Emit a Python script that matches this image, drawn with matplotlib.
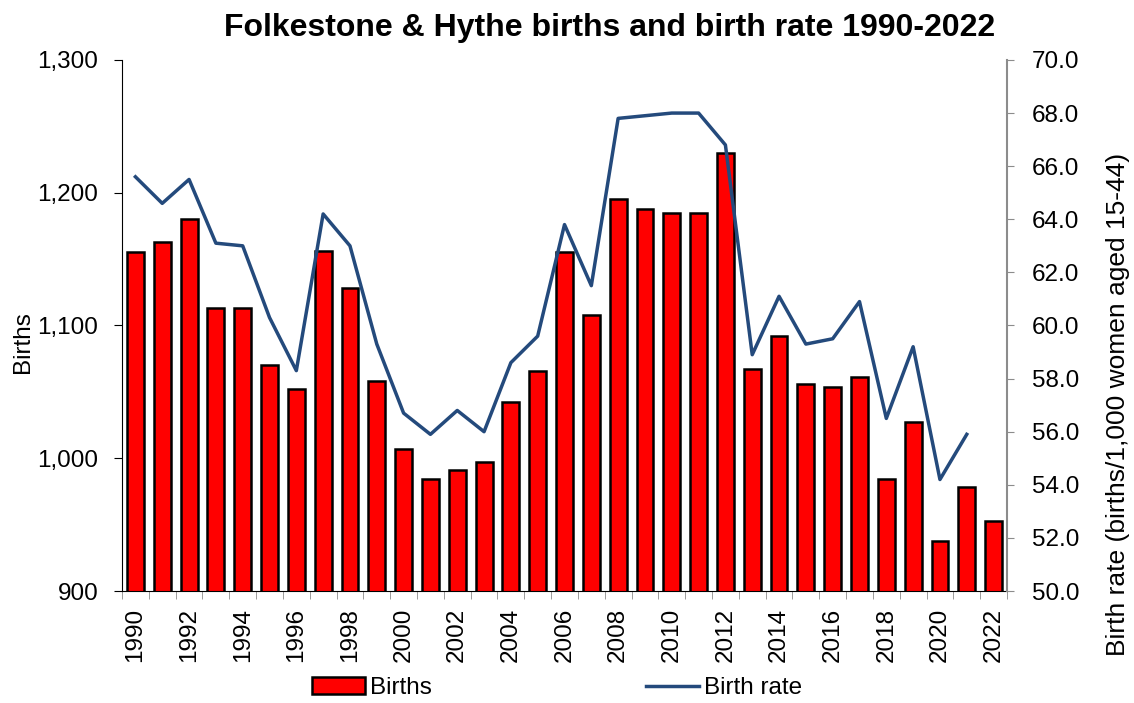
import matplotlib
matplotlib.use("Agg")
import matplotlib.pyplot as plt
from matplotlib.patches import Patch
from matplotlib.lines import Line2D
from matplotlib.ticker import FuncFormatter, MultipleLocator

plt.rcParams['font.family'] = ['Liberation Sans', 'DejaVu Sans']

years = list(range(1990, 2023))
births = [1155, 1163, 1180, 1113, 1113, 1070, 1052, 1156, 1128, 1058,
          1007, 984, 991, 997, 1042, 1066, 1155, 1108, 1195, 1188,
          1185, 1185, 1230, 1067, 1092, 1056, 1054, 1061, 984, 1027,
          938, 978, 953]
# no rate value shown for 2022
birth_rate = [65.6, 64.6, 65.5, 63.1, 63.0, 60.3, 58.3, 64.2, 63.0, 59.3,
              56.7, 55.9, 56.8, 56.0, 58.6, 59.6, 63.8, 61.5, 67.8, 67.9,
              68.0, 68.0, 66.8, 58.9, 61.1, 59.3, 59.5, 60.9, 56.5, 59.2,
              54.2, 55.9, None]

RED, BLUE, GREY = '#ff0000', '#244a7c', '#8c8c8c'
FS = 17.5

fig = plt.figure(figsize=(11.34, 7.03), dpi=100)
ax = fig.add_axes([0.1076, 0.1593, 0.7804, 0.7554])
ax2 = ax.twinx()

x = list(range(len(years)))
ax.bar(x, births, width=0.63, color=RED, edgecolor='black', linewidth=1.8,
       zorder=2)
ax.set_ylim(900, 1300)
ax.set_xlim(-0.5, len(years) - 0.5)
ax.yaxis.set_major_locator(MultipleLocator(100))
ax.yaxis.set_major_formatter(FuncFormatter(lambda v, p: f'{int(v):,}'))
ax.set_xticks(x[::2])
ax.set_xticklabels([str(y) for y in years[::2]], rotation=90)
ax.set_xticks([i - 0.5 for i in range(len(years) + 1)], minor=True)
ax.tick_params(axis='x', which='major', length=0, labelsize=FS, pad=12)
ax.tick_params(axis='x', which='minor', length=6, color=GREY, direction='out')
ax.tick_params(axis='y', labelsize=FS, length=6, pad=11, direction='out')
ax.set_ylabel('Births', fontsize=FS)
ax.yaxis.set_label_coords(-0.1, 0.469)
ax.spines['top'].set_visible(False)
ax.spines['right'].set_visible(False)

rx = [i for i, r in zip(x, birth_rate) if r is not None]
ry = [r for r in birth_rate if r is not None]
ax2.plot(rx, ry, color=BLUE, linewidth=2.5, zorder=3)
ax2.set_ylim(50, 70)
ax2.yaxis.set_major_locator(MultipleLocator(2))
ax2.yaxis.set_major_formatter(FuncFormatter(lambda v, p: f'{v:.1f}'))
ax2.tick_params(axis='y', labelsize=FS, length=5, pad=13, color=GREY,
                direction='out')
ax2.set_ylabel('Birth rate (births/1,000 women aged 15-44)', fontsize=19)
ax2.yaxis.set_label_coords(1.112, 0.352)
ax2.spines['top'].set_visible(False)
ax2.spines['left'].set_visible(False)
ax2.spines['bottom'].set_visible(False)
ax2.spines['right'].set_color(GREY)
ax2.spines['right'].set_linewidth(1.5)

fig.text(0.5375, 0.9488, 'Folkestone & Hythe births and birth rate 1990-2022',
         fontsize=23, fontweight='bold', ha='center', va='baseline')

handles = [Patch(facecolor=RED, edgecolor='black', linewidth=1.8, label='Births'),
           Line2D([0], [0], color=BLUE, linewidth=2.5, label='Birth rate')]
fig.legend(handles=handles, loc='center', ncol=2, frameon=False,
           fontsize=FS, bbox_to_anchor=(0.491, 0.021), handlelength=2.2,
           handletextpad=0.2, columnspacing=8.8)

fig.savefig('out.png', dpi=100, facecolor='white')
